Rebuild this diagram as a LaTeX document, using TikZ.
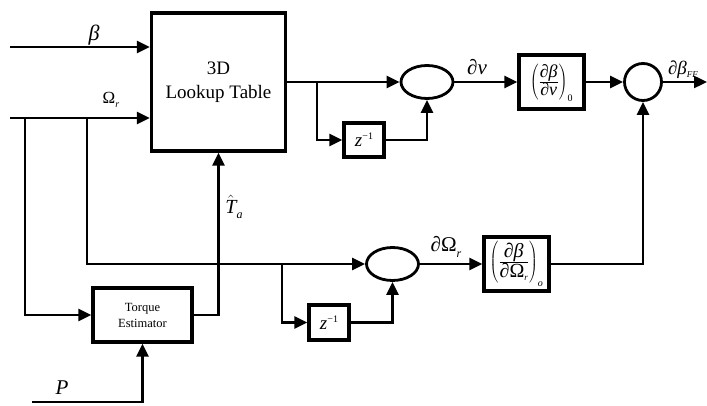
\documentclass[tikz,border=0pt]{standalone}
\usepackage{fontspec}
\setmainfont{Liberation Serif}
\usetikzlibrary{arrows.meta,shapes.geometric}
\newcommand\fsz[1]{\fontsize{#1}{#1}\selectfont}
\newcommand\zinv{\fsz{19}\itshape z\raisebox{7pt}{\fsz{10}\upshape −1}}
\begin{document}
\begin{tikzpicture}[x=1pt,y=-1pt,
  conn/.style={line width=2.4pt,-{Triangle[length=13pt,width=12pt]}},
  blk/.style={draw,line width=3.2pt,rectangle,inner sep=0pt,align=center},
  ell/.style={draw,line width=2.8pt,ellipse,inner sep=0pt,minimum width=52pt,minimum height=33pt},
  lbl/.style={inner sep=0pt,font=\fsz{18}}
]
\useasboundingbox (0,0) rectangle (707,406);
% blocks
\node[blk,minimum width=134pt,minimum height=138pt,font=\fontsize{19}{24}\selectfont] (L) at (218.5,82) {3D\\Lookup Table};
\node[ell] (E1) at (427,82) {};
\node[blk,minimum width=40pt,minimum height=34pt] (Z1) at (364,140) {\zinv};
\node[blk,minimum width=65pt,minimum height=54pt] (G1) at (551.5,82)
  {\fsz{18}$\left(\vrule height 24pt depth 15pt width 0pt\frac{\mbox{\itshape ∂β}}{\mbox{\itshape ∂ν}}\right)_{\mbox{\fsz{10}0}}$};
\node[draw,circle,line width=2.8pt,minimum size=37pt,inner sep=0pt] (C2) at (643,82) {};
\node[blk,minimum width=99pt,minimum height=54pt,font=\fontsize{12.5}{16}\selectfont] (TE) at (142.5,315) {Torque\\Estimator};
\node[ell] (E2) at (392.5,264) {};
\node[blk,minimum width=40pt,minimum height=35pt] (Z2) at (329,322.5) {\zinv};
\node[blk,minimum width=65pt,minimum height=54pt] (G2) at (516.5,264)
  {\fsz{20}$\left(\vrule height 26pt depth 18pt width 0pt\frac{\mbox{\itshape ∂β}}{\mbox{\itshape ∂\upshape Ω\raisebox{-3pt}{\fsz{9}\itshape r}}}\right)_{\mbox{\fsz{10}\itshape o}}$};
% coordinates
\coordinate (bIn) at (10,47);
\coordinate (wIn) at (10,118);
\coordinate (pIn) at (32,402);
\coordinate (out) at (707,82);
\coordinate (j1) at (25,118);
\coordinate (j2) at (87,118);
\coordinate (j3) at (282,264);
\coordinate (j4) at (317,82);
% connectors
\draw[conn] (bIn) -- (bIn -| L.west);
\draw[conn] (wIn) -- (wIn -| L.west);
\draw[conn] (j1) |- (TE.west);
\draw[conn] (j2) |- (E2.west);
\draw[conn] (j3) |- (Z2.west);
\draw[conn] (Z2.east) -| (E2.south);
\draw[conn] (E2.east) -- (G2.west);
\draw[conn] (G2.east) -| (C2.south);
\draw[conn] (L.east) -- (E1.west);
\draw[conn] (j4) |- (Z1.west);
\draw[conn] (Z1.east) -| (E1.south);
\draw[conn] (E1.east) -- (G1.west);
\draw[conn] (G1.east) -- (C2.west);
\draw[conn] (C2.east) -- (out);
\draw[conn] (TE.east) -| (L.south);
\draw[conn] (pIn) -| (TE.south);
% labels
\node[lbl,font=\fsz{22}] (lb) at (94,35) {\itshape β};
\node[lbl,font=\fsz{17}] (lw) at (111,100) {Ω\raisebox{-4pt}{\fsz{10}\itshape r}};
\node[lbl,font=\fsz{20}] (lt) at (234,207) {$\hat{\mbox{\itshape T}}$\raisebox{-5pt}{\fsz{12}\itshape a}};
\node[lbl,font=\fsz{21}] (lnu) at (477,67) {\itshape ∂ν};
\node[lbl,font=\fsz{19}] (lff) at (683,70) {\itshape ∂β\raisebox{-3pt}{\fsz{9}FF}};
\node[lbl,font=\fsz{21}] (lom) at (446,247) {∂Ω\raisebox{-6pt}{\fsz{12}\itshape r}};
\node[lbl,font=\fsz{21}] (lp) at (62,388) {\itshape P};
\end{tikzpicture}
\end{document}
